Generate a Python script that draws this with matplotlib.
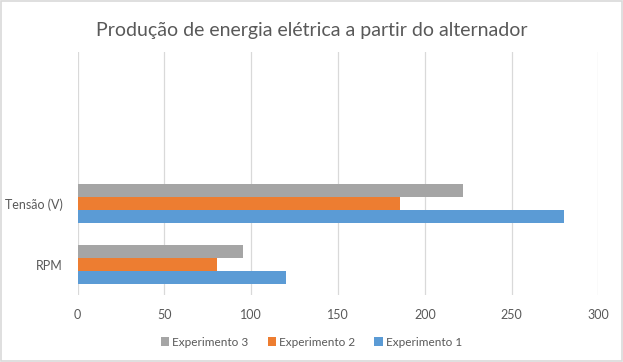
import matplotlib
matplotlib.use("Agg")
import matplotlib.pyplot as plt
from matplotlib.patches import Rectangle
import numpy as np

categories = ["RPM", "Tensão (V)", "", ""]
series_names = ["Experimento 1", "Experimento 2", "Experimento 3"]
exp1 = [120, 280, None, None]
exp2 = [80, 186, None, None]
exp3 = [95, 222, None, None]
xticks = [0, 50, 100, 150, 200, 250, 300]
colors = ["#5B9BD5", "#ED7D31", "#A5A5A5"]

plt.rcParams['font.family'] = ['Lato', 'DejaVu Sans']
txt = "#595959"

fig = plt.figure(figsize=(6.23, 3.62), dpi=100)
ax = fig.add_axes([0.1247, 0.1851, 0.9604 - 0.1247, 0.8564 - 0.1851])

bh = 0.213
offsets = [-bh, 0, bh]
y = np.arange(len(categories))
handles = []
for vals, off, col, name in zip([exp1, exp2, exp3], offsets, colors, series_names):
    idx = [i for i, v in enumerate(vals) if v is not None]
    h = ax.barh(y[idx] + off, [vals[i] for i in idx], height=bh, color=col,
                label=name, zorder=3, linewidth=0)
    handles.append(h)

ax.set_xlim(0, 300)
ax.set_ylim(-0.5, len(categories) - 0.5)
ax.set_xticks(xticks)
ax.set_xticklabels([str(t) for t in xticks])
ax.set_yticks(y)
ax.set_yticklabels(categories)
ax.tick_params(length=0, colors=txt, labelsize=9)
ax.tick_params(axis='x', pad=10)
ax.tick_params(axis='y', pad=11)
ax.grid(axis='x', color="#D9D9D9", linewidth=0.9, zorder=0)
for s in ax.spines.values():
    s.set_visible(False)

fig.suptitle("Produção de energia elétrica a partir do alternador", y=0.94,
             fontsize=14, color=txt)

leg = fig.legend(handles[::-1], series_names[::-1], loc='center',
                 bbox_to_anchor=(0.5, 0.055), ncol=3, frameon=False,
                 fontsize=8.5, handlelength=0.7, handleheight=0.7,
                 handletextpad=0.3, columnspacing=1.6, labelcolor=txt)

fig.patches.append(Rectangle((0.001, 0.002), 0.997, 0.995, transform=fig.transFigure,
                             fill=False, edgecolor="#D9D9D9", linewidth=1.2))

fig.savefig("out.png", dpi=100, facecolor="white")
